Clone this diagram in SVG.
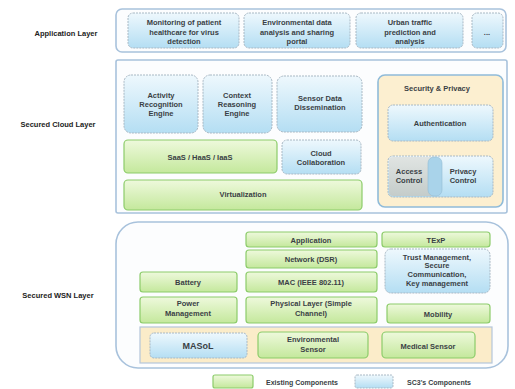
<svg xmlns="http://www.w3.org/2000/svg" width="515" height="389" viewBox="0 0 515 389">
<defs>
<linearGradient id="gG" x1="0" y1="0" x2="0" y2="1"><stop offset="0" stop-color="#eef9dc"/><stop offset="1" stop-color="#c4e89c"/></linearGradient>
<linearGradient id="gB" x1="0" y1="0" x2="0" y2="1"><stop offset="0" stop-color="#eef8fd"/><stop offset="1" stop-color="#b4def3"/></linearGradient>
<linearGradient id="gA" x1="0" y1="0" x2="0" y2="1"><stop offset="0" stop-color="#e0e4e2"/><stop offset="1" stop-color="#c4ccca"/></linearGradient>
<style>
text{font-family:"Liberation Sans",Arial,sans-serif;font-size:7.5px;font-weight:bold;fill:#3a3f45;text-anchor:middle}
.lbl{font-size:7.5px;fill:#222}
.g{fill:url(#gG);stroke:#8ccc6a;stroke-width:1.2}
.b{fill:url(#gB);stroke:#a8b8c4;stroke-width:1;stroke-dasharray:2 1}
.layer{fill:#fcfdfe;stroke:#a8c2dc;stroke-width:1.6}
</style>
</defs>
<rect width="515" height="389" fill="#ffffff"/>

<g id="labels">
<text class="lbl" x="66" y="36">Application Layer</text>
<text class="lbl" x="58" y="127">Secured Cloud Layer</text>
<text class="lbl" x="58" y="298">Secured WSN Layer</text>
</g>

<g id="application-layer">
<rect class="layer" x="116" y="9" width="390" height="43" rx="6"/>
<g id="monitoring"><rect class="b" x="128" y="13" width="111" height="35" rx="5"/>
<text x="184" y="25">Monitoring of patient</text><text x="184" y="34.5">healthcare for virus</text><text x="184" y="44">detection</text></g>
<g id="env-data"><rect class="b" x="244" y="13" width="106" height="35" rx="5"/>
<text x="297" y="25">Environmental data</text><text x="297" y="34.5">analysis and sharing</text><text x="297" y="44">portal</text></g>
<g id="urban"><rect class="b" x="356" y="13" width="107" height="35" rx="5"/>
<text x="410" y="25">Urban traffic</text><text x="410" y="34.5">prediction and</text><text x="410" y="44">analysis</text></g>
<g id="more"><rect class="b" x="472" y="13" width="31" height="35" rx="5"/>
<text x="487" y="35">...</text></g>
</g>

<g id="cloud-layer">
<rect class="layer" x="116" y="60" width="391" height="153" rx="2"/>
<g id="activity"><rect class="b" x="124" y="75" width="74" height="58" rx="7"/>
<text x="161" y="98">Activity</text><text x="161" y="107">Recognition</text><text x="161" y="116">Engine</text></g>
<g id="context"><rect class="b" x="203" y="75" width="69" height="58" rx="7"/>
<text x="237" y="98">Context</text><text x="237" y="107">Reasoning</text><text x="237" y="116">Engine</text></g>
<g id="sensor-data"><rect class="b" x="277" y="76" width="85" height="56" rx="7"/>
<text x="320" y="101">Sensor Data</text><text x="320" y="110">Dissemination</text></g>
<g id="saas"><rect class="g" x="124" y="140" width="153" height="33" rx="4"/>
<text x="200" y="160">SaaS / HaaS / IaaS</text></g>
<g id="cloud-collab"><rect class="b" x="282" y="140" width="79" height="34" rx="5"/>
<text x="321" y="156">Cloud</text><text x="321" y="165">Collaboration</text></g>
<g id="virtualization"><rect class="g" x="124" y="180" width="238" height="30" rx="4"/>
<text x="243" y="197">Virtualization</text></g>
<g id="security">
<rect x="378" y="75" width="125" height="132" rx="7" fill="#fcefd0" stroke="#8fbbd9" stroke-width="1.6"/>
<text x="437" y="91">Security &amp; Privacy</text>
<g id="authentication"><rect class="b" x="388" y="105" width="105" height="36" rx="5"/>
<text x="440" y="126">Authentication</text></g>
<g id="access-privacy">
<rect class="b" x="388" y="156" width="105" height="41" rx="5"/>
<rect x="389" y="157" width="46" height="39" rx="4" fill="url(#gA)"/>
<rect x="428" y="157" width="14" height="39" rx="6" fill="#a9d3ea" stroke="#94bcd4" stroke-width="0.6"/>
<text x="409" y="174">Access</text><text x="409" y="183">Control</text>
<text x="463" y="174">Privacy</text><text x="463" y="183">Control</text>
</g>
</g>
</g>

<g id="wsn-layer">
<rect class="layer" x="116" y="222" width="392" height="146" rx="22"/>
<g id="wsn-application"><rect class="g" x="246" y="232" width="131" height="15" rx="3"/><text x="311" y="242.5">Application</text></g>
<g id="texp"><rect class="g" x="382" y="232" width="108" height="15" rx="3"/><text x="436" y="242.5">TExP</text></g>
<g id="network"><rect class="g" x="246" y="250" width="131" height="18" rx="3"/><text x="311" y="262">Network (DSR)</text></g>
<g id="trust"><rect class="b" x="385" y="249" width="105" height="44" rx="6"/>
<text x="437" y="259.5">Trust Management,</text><text x="437" y="268">Secure</text><text x="437" y="277">Communication,</text><text x="437" y="285.5">Key management</text></g>
<g id="battery"><rect class="g" x="140" y="272" width="97" height="20" rx="3"/><text x="188" y="285">Battery</text></g>
<g id="mac"><rect class="g" x="246" y="272" width="131" height="20" rx="3"/><text x="311" y="285">MAC (IEEE 802.11)</text></g>
<g id="power"><rect class="g" x="140" y="297" width="97" height="26" rx="3"/><text x="188" y="306">Power</text><text x="188" y="316">Management</text></g>
<g id="physical"><rect class="g" x="246" y="297" width="131" height="26" rx="3"/><text x="311" y="306">Physical Layer (Simple</text><text x="311" y="316">Channel)</text></g>
<g id="mobility"><rect class="g" x="387" y="304" width="103" height="19" rx="3"/><text x="438" y="316.5">Mobility</text></g>
<rect x="140" y="327" width="352" height="36" fill="#fbecc9" stroke="#b4c6da" stroke-width="1.2"/>
<g id="masol"><rect class="b" x="150" y="333" width="97" height="25" rx="4"/><text x="198" y="349" style="font-size:9px">MASoL</text></g>
<g id="env-sensor"><rect class="g" x="258" y="332" width="110" height="26" rx="4"/><text x="313" y="342">Environmental</text><text x="313" y="351.5">Sensor</text></g>
<g id="medical"><rect class="g" x="382" y="332" width="93" height="26" rx="4"/><text x="428" y="348.5">Medical Sensor</text></g>
</g>

<g id="legend">
<rect class="g" x="213" y="375" width="40" height="13" rx="2"/>
<text x="302" y="384.5" style="font-size:7px">Existing Components</text>
<rect class="b" x="355" y="375" width="38" height="13" rx="2"/>
<text x="439" y="384.5" style="font-size:7px">SC3's Components</text>
</g>
<g id="connectors"></g>
</svg>
